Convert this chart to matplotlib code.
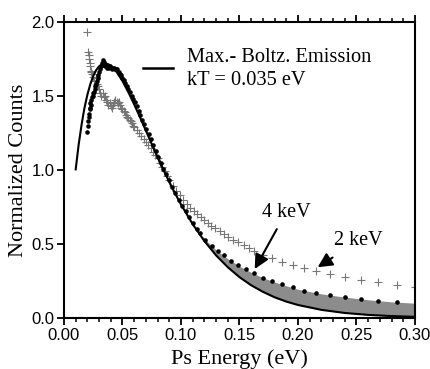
import numpy as np
import matplotlib
matplotlib.use("Agg")
import matplotlib.pyplot as plt
from matplotlib.ticker import MultipleLocator

# Maxwell-Boltzmann emission curve (kT = 0.035 eV)
mb_E = [0.010, 0.0125, 0.015, 0.0175, 0.020, 0.0225, 0.025, 0.0275, 0.030, 0.0325, 0.035,
        0.0375, 0.040, 0.045, 0.050, 0.055, 0.060, 0.065, 0.070, 0.075, 0.080, 0.085,
        0.090, 0.095, 0.100, 0.110, 0.120, 0.130, 0.140, 0.150, 0.160, 0.170, 0.180,
        0.190, 0.200, 0.220, 0.240, 0.260, 0.280, 0.300]
mb_y = [1.004, 1.17, 1.305, 1.42, 1.509, 1.58, 1.635, 1.675, 1.701, 1.715, 1.720,
        1.716, 1.704, 1.662, 1.601, 1.526, 1.443, 1.356, 1.266, 1.175, 1.087, 1.001,
        0.919, 0.841, 0.767, 0.634, 0.520, 0.423, 0.343, 0.276, 0.221, 0.177, 0.140,
        0.111, 0.088, 0.055, 0.034, 0.021, 0.013, 0.008]

# 4 keV data (black dots)
e4_E = [0.0200, 0.0203, 0.0206, 0.0210, 0.0214, 0.0218, 0.0222, 0.0226, 0.0230, 0.0235,
        0.0240, 0.0245, 0.0250, 0.0256, 0.0262, 0.0268, 0.0274, 0.0280, 0.0287, 0.0294,
        0.0301, 0.0308, 0.0315, 0.0322, 0.0330, 0.0338, 0.0346, 0.0354, 0.0362, 0.0370,
        0.0379, 0.0388, 0.0397, 0.0406, 0.0415, 0.0425, 0.0435, 0.0445, 0.0455, 0.0466,
        0.0477, 0.0488, 0.0500, 0.0512, 0.0524, 0.0537, 0.0550, 0.0563, 0.0577, 0.0591,
        0.0606, 0.0621, 0.0637, 0.0653, 0.0670, 0.0687, 0.0705, 0.0724, 0.0743, 0.0763,
        0.0784, 0.0805, 0.0827, 0.0850, 0.0874, 0.0899, 0.0925, 0.0952, 0.0980, 0.1009,
        0.1039, 0.1070, 0.1103, 0.1137, 0.1162, 0.1205, 0.1262, 0.1319, 0.1370, 0.1427,
        0.1490, 0.1553, 0.1624, 0.1698, 0.1775, 0.1860, 0.1955, 0.2050, 0.2154, 0.2274,
        0.2400, 0.2536, 0.2680, 0.2843]
e4_y = [1.26, 1.30, 1.33, 1.36, 1.38, 1.41, 1.42, 1.45, 1.44, 1.47,
        1.49, 1.50, 1.52, 1.53, 1.55, 1.57, 1.58, 1.60, 1.62, 1.64,
        1.66, 1.68, 1.70, 1.72, 1.74, 1.73, 1.71, 1.70, 1.71, 1.69,
        1.70, 1.69, 1.70, 1.68, 1.69, 1.69, 1.68, 1.68, 1.68, 1.66,
        1.65, 1.64, 1.62, 1.61, 1.59, 1.57, 1.55, 1.53, 1.50, 1.48,
        1.46, 1.43, 1.40, 1.37, 1.34, 1.31, 1.28, 1.24, 1.21, 1.17,
        1.13, 1.09, 1.05, 1.01, 0.97, 0.93, 0.885, 0.845, 0.80, 0.76,
        0.72, 0.68, 0.64, 0.60, 0.572, 0.527, 0.486, 0.455, 0.423, 0.387,
        0.356, 0.329, 0.302, 0.270, 0.248, 0.230, 0.207, 0.185, 0.171, 0.158,
        0.144, 0.130, 0.117, 0.108]

# 2 keV data (gray crosses)
e2_E = [0.0199, 0.0205, 0.0210, 0.0215, 0.0220, 0.0225, 0.0230, 0.0235, 0.0240, 0.0250,
        0.0260, 0.0270, 0.0280, 0.0290, 0.0300, 0.0310, 0.0320, 0.0330, 0.0340, 0.0350,
        0.0360, 0.0370, 0.0380, 0.0390, 0.0400, 0.0410, 0.0420, 0.0430, 0.0440, 0.0450,
        0.0460, 0.0470, 0.0480, 0.0490, 0.0500, 0.0510, 0.0520, 0.0530, 0.0540, 0.0550,
        0.0560, 0.0570, 0.0580, 0.0590, 0.0600, 0.0620, 0.0640, 0.0660, 0.0680, 0.0700,
        0.0720, 0.0740, 0.0760, 0.0780, 0.0800, 0.0820, 0.0840, 0.0860, 0.0880, 0.0900,
        0.0930, 0.0960, 0.0990, 0.1020, 0.1050, 0.1080, 0.1110, 0.1140, 0.1170, 0.1200,
        0.1230, 0.1260, 0.1290, 0.1330, 0.1370, 0.1405, 0.1445, 0.1490, 0.1535, 0.1580,
        0.1625, 0.1698, 0.1775, 0.1860, 0.1955, 0.2055, 0.2157, 0.2274, 0.2403, 0.2538,
        0.2680, 0.2843, 0.3000]
e2_y = [1.93, 1.80, 1.78, 1.75, 1.72, 1.70, 1.67, 1.66, 1.65, 1.63,
        1.60, 1.62, 1.58, 1.57, 1.55, 1.52, 1.50, 1.52, 1.49, 1.50,
        1.47, 1.46, 1.44, 1.45, 1.43, 1.42, 1.44, 1.46, 1.47, 1.46,
        1.45, 1.46, 1.44, 1.42, 1.41, 1.40, 1.39, 1.37, 1.36, 1.35,
        1.34, 1.33, 1.315, 1.30, 1.29, 1.27, 1.25, 1.23, 1.21, 1.19,
        1.17, 1.15, 1.12, 1.10, 1.08, 1.05, 1.02, 0.99, 0.96, 0.93,
        0.89, 0.86, 0.83, 0.80, 0.77, 0.745, 0.72, 0.70, 0.68, 0.66,
        0.645, 0.625, 0.61, 0.59, 0.57, 0.55, 0.53, 0.515, 0.495, 0.475,
        0.455, 0.426, 0.403, 0.381, 0.358, 0.336, 0.320, 0.297, 0.275, 0.257,
        0.243, 0.224, 0.207]

# shaded band between the Maxwell-Boltzmann curve and the 4 keV tail
band_E = [0.118, 0.120, 0.130, 0.140, 0.150, 0.160, 0.170, 0.180, 0.190, 0.200,
          0.220, 0.240, 0.260, 0.280, 0.300]
band_lo = [0.550, 0.520, 0.423, 0.343, 0.276, 0.221, 0.177, 0.140, 0.111, 0.088,
           0.055, 0.034, 0.021, 0.013, 0.008]
band_hi = [0.555, 0.535, 0.460, 0.400, 0.350, 0.308, 0.272, 0.243, 0.218, 0.194,
           0.163, 0.141, 0.123, 0.109, 0.100]

fig = plt.figure(figsize=(4.31, 3.69), dpi=100)
ax = fig.add_axes([64/431, 1-318/369, (415-64)/431, (318-22)/369])

ax.fill_between(band_E, band_lo, band_hi, color="#8c8c8c", linewidth=0, zorder=1)
ax.plot(e2_E, e2_y, linestyle="none", marker="+", markersize=5.5, mew=0.8,
        color="#767676", zorder=2)
ax.plot(e4_E, e4_y, linestyle="none", marker="o", markersize=3.3, mew=0,
        color="black", zorder=3)
ax.plot(mb_E, mb_y, color="black", linewidth=1.5, zorder=4)

ax.set_xlim(0, 0.30)
ax.set_ylim(0, 2.0)

serif = "Liberation Serif"
sans = "Liberation Sans"

ax.set_xlabel("Ps Energy (eV)", family=serif, fontsize=16, labelpad=5)
ax.set_ylabel("Normalized Counts", family=serif, fontsize=16, labelpad=2)

ax.xaxis.set_minor_locator(MultipleLocator(0.01))
ax.set_xticks([0.00, 0.05, 0.10, 0.15, 0.20, 0.25, 0.30])
ax.set_xticklabels(["0.00", "0.05", "0.10", "0.15", "0.20", "0.25", "0.30"])
ax.set_yticks([0.0, 0.5, 1.0, 1.5, 2.0])
ax.set_yticklabels(["0.0", "0.5", "1.0", "1.5", "2.0"])
ax.tick_params(axis="x", which="both", direction="out", top=True, bottom=True,
               labeltop=False)
ax.tick_params(axis="y", which="both", direction="out", left=True, right=False)
ax.tick_params(which="major", length=5, width=1.3, labelsize=12, pad=2)
ax.tick_params(which="minor", length=3, width=1.1)
for lbl in ax.get_xticklabels() + ax.get_yticklabels():
    lbl.set_family(sans)
for s in ax.spines.values():
    s.set_linewidth(1.5)

# legend
ax.plot([0.0675, 0.0932], [1.69, 1.69], color="black", linewidth=1.8)
ax.text(0.1055, 1.76, "Max.- Boltz. Emission", family=serif, fontsize=14.7,
        va="center", ha="left")
ax.text(0.1055, 1.605, "kT = 0.035 eV", family=serif, fontsize=14.7,
        va="center", ha="left")

# annotations
ax.annotate("4 keV", xy=(0.163, 0.331), xytext=(0.19, 0.716),
            family=serif, fontsize=14.5, ha="center", va="center",
            arrowprops=dict(arrowstyle="-|>,head_length=0.6,head_width=0.3",
                            color="black", lw=1.5, shrinkA=4, shrinkB=0))
ax.annotate("2 keV", xy=(0.2168, 0.343), xytext=(0.2517, 0.522),
            family=serif, fontsize=14.5, ha="center", va="center",
            arrowprops=dict(arrowstyle="-|>,head_length=0.6,head_width=0.3",
                            color="black", lw=1.5, shrinkA=6, shrinkB=0))

fig.savefig("out.png", dpi=100)
